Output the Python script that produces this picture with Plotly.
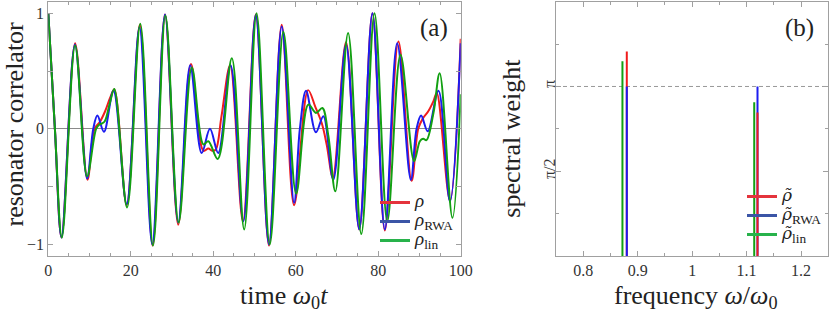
import math
import plotly.graph_objects as go

# ---------------- data: panel (a) resonator correlator vs time ----------------
t_rho = [0, 1.6, 3.2, 6.5, 9.5, 11.2, 12.5, 13.75, 15.0, 16.0, 19.0, 22.2, 25.3, 28.3, 31.5,
         34.6, 37.6, 38.8, 39.8, 40.6, 42.0, 44.1, 47.2, 50.3, 53.5, 56.6, 59.6, 63.0, 64.7,
         66.3, 67.5, 69.0, 72.2, 75.4, 78.6, 81.6, 84.9, 88.1, 89.7, 90.9, 92.1, 93.4, 94.2,
         97.4, 100]
v_rho = [1.0, 0.0, -0.94, 0.74, -0.44, 0.0, 0.06, 0.15, 0.27, 0.34, -0.66, 0.90, -1.01, 0.99,
         -0.83, 0.56, -0.19, -0.17, -0.19, -0.18, 0.11, 0.55, -0.80, 0.99, -1.01, 0.90, -0.66,
         0.335, 0.195, 0.05, -0.135, -0.42, 0.75, -0.87, 1.0, -0.88, 0.755, -0.45, 0.0, 0.095,
         0.15, 0.24, 0.31, -0.62, 0.78]

t_rwa = [0, 1.6, 3.2, 6.45, 9.4, 10.9, 11.9, 13.5, 15.8, 19.0, 22.1, 25.2, 28.3, 31.5, 34.4,
         37.2, 39.2, 41.2, 44.2, 47.3, 50.3, 53.5, 56.6, 59.6, 61.0, 62.5, 64.9, 66.7, 69.1,
         72.2, 75.4, 78.6, 81.6, 84.6, 87.9, 89.3, 90.4, 92.0, 94.6, 97.4, 100]
v_rwa = [1.0, 0.0, -0.94, 0.73, -0.43, 0.0, 0.115, -0.025, 0.33, -0.65, 0.88, -1.0, 0.99,
         -0.81, 0.55, -0.21, 0.0, -0.21, 0.55, -0.80, 0.985, -1.0, 0.885, -0.64, 0.0, 0.33,
         -0.03, 0.11, -0.44, 0.73, -0.87, 1.0, -0.87, 0.74, -0.44, 0.0, 0.115, -0.02, 0.33,
         -0.63, 0.74]

t_lin = [0, 1.6, 3.3, 6.5, 9.4, 11.6, 12.4, 12.9, 13.7, 14.9, 16.0, 19.1, 22.3, 25.4, 28.4,
         31.6, 34.8, 37.6, 38.8, 41.1, 44.5, 47.5, 50.5, 53.7, 57.0, 60.1, 63.05, 64.9, 66.45,
         67.9, 69.6, 72.7, 75.9, 79.1, 82.2, 85.4, 88.7, 90.1, 90.9, 91.7, 93.4, 94.9, 98.0, 100]
v_lin = [1.0, 0.0, -0.94, 0.72, -0.41, 0.0, 0.037, 0.045, 0.066, 0.22, 0.345, -0.68, 0.91,
         -1.01, 0.98, -0.81, 0.53, -0.135, -0.107, -0.26, 0.61, -0.87, 1.0, -1.0, 0.84, -0.56,
         0.21, 0.138, 0.18, -0.06, -0.54, 0.83, -0.91, 1.0, -0.80, 0.64, -0.28, -0.107, -0.086,
         -0.098, 0.138, 0.48, -0.77, 0.30]

# ---------------- data: panel (b) spectral weights ----------------
freq_rho = [0.880, 1.120]
weight_rho = [3.79, 2.66]
freq_rwa = [0.880, 1.120]
weight_rwa = [3.1416, 3.1416]
freq_lin = [0.872, 1.114]
weight_lin = [3.61, 2.85]

x_ticks_a = [0, 20, 40, 60, 80, 100]
y_ticks_a = [-1, 0, 1]
y_ticklabels_a = ["\u22121", "0", "1"]
x_ticks_b = [0.8, 0.9, 1.0, 1.1, 1.2]
x_ticklabels_b = ["0.8", "0.9", "1", "1.1", "1.2"]
y_ticklabels_b = ["\u03c0/2", "\u03c0"]

# ---------------- styling ----------------
FONT = "Liberation Serif"
C_RED, C_BLUE, C_GREEN = "#f01c1c", "#1c1cf0", "#12a012"
L_RED, L_BLUE, L_GREEN = "#e4343c", "#3b55a6", "#28b24b"
AX = "#a0a0a0"
TXT = "#222222"
W, H = 830, 313
TITLE_SIZE = 26


def px_x(p):
    return p / W


def px_y(p):
    return 1 - p / H


fig = go.Figure()

series_a = [(t_rho, v_rho, C_RED), (t_rwa, v_rwa, C_BLUE), (t_lin, v_lin, C_GREEN)]
for t, v, c in series_a:
    fig.add_trace(go.Scatter(x=t, y=v, mode="lines", xaxis="x", yaxis="y",
                             line=dict(color=c, width=2, shape="spline", smoothing=1),
                             showlegend=False, hoverinfo="skip"))

spec = {"rho": (freq_rho, weight_rho, C_RED),
        "rwa": (freq_rwa, weight_rwa, C_BLUE),
        "lin": (freq_lin, weight_lin, C_GREEN)}
draw_order = [("rho", 0), ("rwa", 0), ("lin", 0), ("rwa", 1), ("rho", 1), ("lin", 1)]
for key, i in draw_order:
    f, w, c = spec[key]
    fig.add_trace(go.Scatter(x=[f[i], f[i]], y=[0, w[i]], mode="lines", xaxis="x2", yaxis="y2",
                             line=dict(color=c, width=2), showlegend=False, hoverinfo="skip"))

SPAN = '<span style="font-size:19px">%s</span>'
RT = '<span style="font-family:DejaVu Serif;font-size:17px"><i>\u03c1\u0303</i></span>'
leg_a = [("<i>\u03c1</i>", L_RED), ("<i>\u03c1</i><sub>RWA</sub>", L_BLUE),
         ("<i>\u03c1</i><sub>lin</sub>", L_GREEN)]
leg_b = [(RT, L_RED), (RT + "<sub>RWA</sub>", L_BLUE), (RT + "<sub>lin</sub>", L_GREEN)]
for name, c in leg_a:
    fig.add_trace(go.Scatter(x=[None], y=[None], mode="lines", xaxis="x", yaxis="y",
                             line=dict(color=c, width=3), name=SPAN % name, legend="legend"))
for name, c in leg_b:
    fig.add_trace(go.Scatter(x=[None], y=[None], mode="lines", xaxis="x2", yaxis="y2",
                             line=dict(color=c, width=3), name=SPAN % name, legend="legend2"))

ydom = [px_y(256), px_y(1.7)]
common = dict(showline=True, linecolor=AX, linewidth=1, mirror="ticks", ticks="inside",
              ticklen=5, tickcolor=AX, tickwidth=1, showgrid=False, automargin=False,
              tickfont=dict(family=FONT, size=16, color="#333"))


def label(text, x, y, size, angle=0):
    return dict(text=text, x=px_x(x), y=px_y(y), xref="paper", yref="paper",
                xanchor="center", yanchor="middle", showarrow=False, textangle=angle,
                font=dict(family=FONT, size=size, color=TXT))


fig.update_layout(
    width=W, height=H, margin=dict(l=0, r=0, t=0, b=0, autoexpand=False),
    paper_bgcolor="white", plot_bgcolor="white",
    font=dict(family=FONT, color=TXT),
    xaxis=dict(domain=[px_x(48.3), px_x(460.7)], range=[0, 100], anchor="y",
               tickvals=x_ticks_a, zeroline=False,
               minor=dict(dtick=5, tick0=0, ticks="inside", ticklen=3, tickcolor=AX),
               **common),
    yaxis=dict(domain=ydom, range=[-1.1, 1.1], anchor="x",
               tickvals=y_ticks_a, ticktext=y_ticklabels_a,
               zeroline=True, zerolinecolor="#8a8a8a", zerolinewidth=1,
               minor=dict(dtick=0.5, tick0=0, ticks="inside", ticklen=5, tickcolor=AX),
               **common),
    xaxis2=dict(domain=[px_x(556), px_x(828.3)], range=[0.75, 1.25], anchor="y2",
                tickvals=x_ticks_b, ticktext=x_ticklabels_b, zeroline=False,
                minor=dict(dtick=0.05, tick0=0.75, ticks="inside", ticklen=3, tickcolor=AX),
                **common),
    yaxis2=dict(domain=ydom, range=[0, 1.5 * math.pi], anchor="x2",
                tickvals=[math.pi / 2, math.pi], ticktext=y_ticklabels_b, tickangle=-90,
                ticklabelstandoff=-6, zeroline=False,
                minor=dict(dtick=math.pi / 4, tick0=0, ticks="inside", ticklen=3, tickcolor=AX),
                **common),
    legend=dict(x=px_x(375), y=px_y(188), xanchor="left", yanchor="top",
                bgcolor="rgba(0,0,0,0)", borderwidth=0, tracegroupgap=0,
                font=dict(family=FONT, size=11, color=TXT)),
    legend2=dict(x=px_x(742), y=px_y(182), xanchor="left", yanchor="top",
                 bgcolor="rgba(0,0,0,0)", borderwidth=0, tracegroupgap=0,
                 font=dict(family=FONT, size=12, color=TXT)),
    shapes=[dict(type="line", xref="x2 domain", x0=0, x1=1, yref="y2",
                 y0=math.pi, y1=math.pi, layer="below",
                 line=dict(color="#999999", width=1, dash="4px,3px"))],
    annotations=[
        label("(a)", 433.5, 28, 25),
        label("(b)", 799, 28, 25),
        label("time <i>\u03c9</i><sub>0</sub><i>t</i>", 283.5, 297, TITLE_SIZE),
        label("frequency <i>\u03c9</i>/<i>\u03c9</i><sub>0</sub>", 695, 297, TITLE_SIZE),
        label("resonator correlator", 13.5, 124, TITLE_SIZE, -90),
        label("spectral weight", 511.7, 138, TITLE_SIZE, -90),
    ],
)

fig.write_html("out.html", config={"displayModeBar": False},
               post_script="document.body.style.margin='0px';")
